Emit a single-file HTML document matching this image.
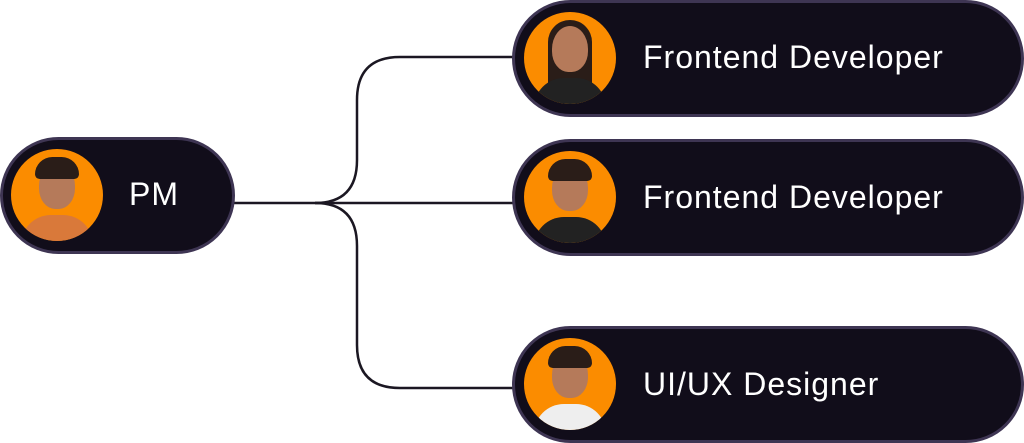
<!DOCTYPE html>
<html><head><style>
body{margin:0;width:1024px;height:443px;background:#fff;position:relative;overflow:hidden;font-family:"Liberation Sans",sans-serif}
.pill{position:absolute;background:#110d1a;border:3px solid #3e3553;border-radius:60px;box-sizing:border-box}
.av{position:absolute;width:92px;height:92px;border-radius:50%;background:#fb8c00;overflow:hidden}
.av .h{position:absolute;left:28px;top:14px;width:36px;height:46px;border-radius:50% 50% 45% 45%;background:#b57a5a}
.av .hair{position:absolute;left:24px;top:8px;width:44px;height:22px;border-radius:22px 22px 6px 6px;background:#2a1d18}
.av .b{position:absolute;left:10px;top:66px;width:72px;height:40px;border-radius:30px 30px 0 0;background:#222}
.t{position:absolute;color:#fff;font-size:32px;letter-spacing:1px}
</style></head><body>
<svg width="1024" height="443" style="position:absolute;left:0;top:0">
<g fill="none" stroke="#1b1722" stroke-width="2.5">
<path d="M233 203 H515"/>
<path d="M315 203 Q357 203 357 160 V100 Q357 57 400 57 H515"/>
<path d="M315 203 Q357 203 357 246 V345 Q357 388 400 388 H515"/>
</g>
</svg>
<div class="pill" style="left:0;top:137px;width:235px;height:117px"></div>
<div class="av" style="left:11px;top:149px"><div class="b" style="background:#d9793a"></div><div class="h"></div><div class="hair"></div></div>
<div class="t" style="left:129px;top:176px">PM</div>

<div class="pill" style="left:512px;top:0;width:512px;height:117px"></div>
<div class="av" style="left:524px;top:12px"><div class="hair" style="height:70px;border-radius:22px 22px 4px 4px"></div><div class="b"></div><div class="h"></div></div>
<div class="t" style="left:643px;top:39px">Frontend Developer</div>

<div class="pill" style="left:512px;top:139px;width:512px;height:117px"></div>
<div class="av" style="left:524px;top:151px"><div class="b"></div><div class="h"></div><div class="hair"></div></div>
<div class="t" style="left:643px;top:179px">Frontend Developer</div>

<div class="pill" style="left:512px;top:326px;width:512px;height:117px"></div>
<div class="av" style="left:524px;top:338px"><div class="b" style="background:#eee"></div><div class="h"></div><div class="hair"></div></div>
<div class="t" style="left:643px;top:366px">UI/UX Designer</div>
</body></html>
